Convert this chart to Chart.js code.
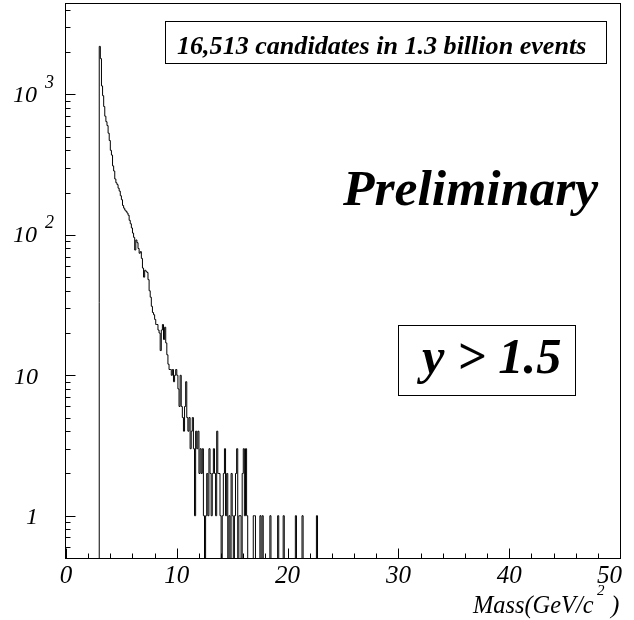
<!DOCTYPE html>
<html><head><meta charset="utf-8">
<script src="https://cdn.jsdelivr.net/npm/chart.js@4"></script>
<style>html,body{margin:0;padding:0;background:#fff;overflow:hidden}#wrap{width:634px;height:620px;position:relative}</style>
</head><body><div id="wrap"><canvas id="c"></canvas></div>
<script>
// ---- data ----
const binStart = 3.0;   // GeV/c^2, low edge of first bin
const binWidth = 0.1;   // GeV/c^2
const counts = [
  2200,1800,1150,980,820,700,640,600,530,470,
  400,370,310,285,250,235,228,215,205,190,
  178,162,155,150,147,143,138,127,120,112,
  103,96,78,92,88,80,74,76,68,58,
  50,56,55,54,48,40,36,31,28,27,
  25,23,23,21,20,15,21,23,18,22,
  17,14,12,11,11,10,11,9,10,11,
  10,8,6,10,6,5,4,6,9,5,
  4,5,3,4,5,3,1,4,3,4,
  2,3,2,3,1,0,1,2,1,3,
  2,1,2,3,2,1,4,2,2,1,
  0,1,2,3,1,2,0,1,0,2,
  1,0,1,2,3,0,1,1,0,2,
  3,1,3,1,0,0,0,0,0,1,
  1,0,0,0,0,1,0,1,0,0,
  0,0,0,0,1,0,0,0,0,0,
  0,1,0,0,0,0,1,0,0,0,
  0,0,0,0,0,0,0,1,0,0,
  0,0,0,1,0,0,0,0,0,0,
  0,0,0,0,0,0,1,0,0,0
];
const xTickValues = [0,10,20,30,40,50];
const xTickLabels = ['0','10','20','30','40','50'];
const yTickValues = [1,10,100,1000];
const yTickBase = ['1','10','10','10'];
const yTickExp = ['','','2','3'];
const xTitleMain = 'Mass(GeV/c';
const xTitleSup = '2';
const xTitleEnd = ')';
const noteText = '16,513 candidates in 1.3 billion events';
const prelimText = 'Preliminary';
const cutText = 'y > 1.5';

// ---- build histogram outline ----
const ZERO_FLOOR = 0.05; // empty bins drawn down past the frame bottom (log scale)
const pts = [{x: binStart, y: ZERO_FLOOR}];
counts.forEach((c, i) => pts.push({x: +(binStart + i * binWidth).toFixed(3), y: c > 0 ? c : ZERO_FLOOR}));
pts.push({x: +(binStart + counts.length * binWidth).toFixed(3), y: ZERO_FLOOR});

const SERIF = '"Liberation Serif","Times New Roman",serif';

function fitText(ctx, text, style, inkLeft, inkRight, baseline) {
  ctx.textAlign = 'left';
  ctx.textBaseline = 'alphabetic';
  ctx.font = style + ' 100px ' + SERIF;
  let m = ctx.measureText(text);
  const w = m.actualBoundingBoxLeft + m.actualBoundingBoxRight;
  const size = 100 * (inkRight - inkLeft) / w;
  ctx.font = style + ' ' + size.toFixed(2) + 'px ' + SERIF;
  m = ctx.measureText(text);
  ctx.fillText(text, inkLeft + m.actualBoundingBoxLeft, baseline);
}
function inkText(ctx, text, font, inkLeft, baseline) {
  ctx.textAlign = 'left';
  ctx.textBaseline = 'alphabetic';
  ctx.font = font;
  const m = ctx.measureText(text);
  ctx.fillText(text, inkLeft + m.actualBoundingBoxLeft, baseline);
}
function inkTextRight(ctx, text, font, inkRight, baseline) {
  ctx.textAlign = 'left';
  ctx.textBaseline = 'alphabetic';
  ctx.font = font;
  const m = ctx.measureText(text);
  ctx.fillText(text, inkRight - m.actualBoundingBoxRight, baseline);
}

const rootStyle = {
  id: 'rootStyle',
  afterDraw(chart) {
    const {ctx, chartArea: a, scales: {x, y}} = chart;
    ctx.save();
    ctx.strokeStyle = '#000';
    ctx.fillStyle = '#000';
    ctx.lineWidth = 1;
    const L = Math.round(a.left) - 0.5, R = Math.round(a.right) + 0.5;
    const T = Math.round(a.top) + 0.5, B = Math.round(a.bottom) + 0.5;
    ctx.strokeRect(L, T, R - L, B - T);

    // x ticks
    ctx.beginPath();
    for (let v = x.min; v <= x.max + 1e-9; v += 2) {
      const px = Math.round(x.getPixelForValue(v)) + 0.5;
      const major = xTickValues.includes(Math.round(v));
      ctx.moveTo(px, B); ctx.lineTo(px, B - (major ? 10 : 5));
    }
    // y ticks
    const lo = Math.floor(Math.log10(y.min)), hi = Math.ceil(Math.log10(y.max));
    for (let d = lo; d <= hi; d++) {
      for (let k = 1; k <= 9; k++) {
        const v = k * Math.pow(10, d);
        if (v < y.min * 0.999 || v > y.max) continue;
        const py = Math.round(y.getPixelForValue(v)) + 0.5;
        ctx.moveTo(L, py); ctx.lineTo(L + (k === 1 ? 10 : 5), py);
      }
    }
    ctx.stroke();

    // x tick labels
    ctx.font = 'italic 25px ' + SERIF;
    ctx.textBaseline = 'alphabetic';
    xTickValues.forEach((v, i) => {
      const px = x.getPixelForValue(v);
      if (i === xTickValues.length - 1) { ctx.textAlign = 'right'; ctx.fillText(xTickLabels[i], px + 2, 583); }
      else { ctx.textAlign = 'center'; ctx.fillText(xTickLabels[i], px, 583); }
    });

    // y tick labels
    yTickValues.forEach((v, i) => {
      const py = y.getPixelForValue(v);
      ctx.font = 'italic 24px ' + SERIF;
      ctx.textAlign = 'right';
      if (yTickExp[i]) {
        ctx.fillText(yTickBase[i], 37, py + 7.5);
        ctx.font = 'italic 18px ' + SERIF;
        ctx.textAlign = 'left';
        ctx.fillText(yTickExp[i], 45, py - 6.5);
      } else {
        ctx.fillText(yTickBase[i], 38, py + 8.5);
      }
    });

    // x axis title
    fitText(ctx, xTitleMain, 'italic', 472, 593, 613);
    inkText(ctx, xTitleSup, 'italic 15px ' + SERIF, 597, 595);
    inkTextRight(ctx, xTitleEnd, 'italic 25px ' + SERIF, 619, 613);

    // note box
    ctx.fillStyle = '#fff';
    ctx.fillRect(165.5, 21.5, 441, 42);
    ctx.strokeRect(165.5, 21.5, 441, 42);
    ctx.fillStyle = '#000';
    fitText(ctx, noteText, 'italic bold', 177, 585, 54);

    // Preliminary
    fitText(ctx, prelimText, 'italic bold', 342, 598, 205);

    // cut box
    ctx.strokeRect(398.5, 325.5, 177, 70);
    fitText(ctx, cutText, 'italic bold', 416, 560, 373);
    ctx.restore();
  }
};

new Chart(document.getElementById('c'), {
  type: 'line',
  data: {datasets: [{
    data: pts,
    borderColor: '#000',
    borderWidth: 1,
    pointRadius: 0,
    stepped: 'before',
    fill: false,
    tension: 0
  }]},
  options: {
    responsive: true,
    maintainAspectRatio: false,
    animation: false,
    events: [],
    layout: {padding: {left: 66, right: 14, top: 3, bottom: 62}},
    scales: {
      x: {type: 'linear', min: 0, max: 50, display: false},
      y: {type: 'logarithmic', min: 0.5, max: 4480, display: false}
    },
    plugins: {legend: {display: false}, tooltip: {enabled: false}}
  },
  plugins: [rootStyle]
});
</script>
</body></html>
